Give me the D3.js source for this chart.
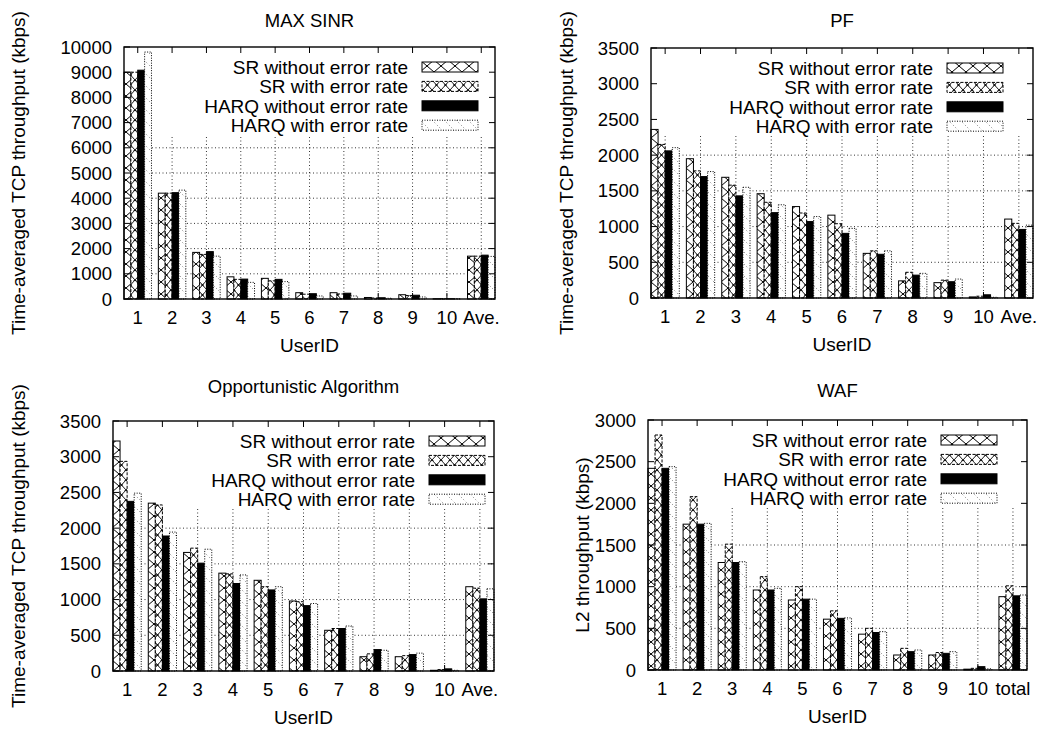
<!DOCTYPE html>
<html>
<head>
<meta charset="utf-8">
<script src="https://cdnjs.cloudflare.com/ajax/libs/d3/7.8.5/d3.min.js"></script>
<style>
  body { margin: 0; background: #fff; }
  svg text { font-family: "Liberation Sans", Arial, Helvetica, sans-serif; fill: #000; }
</style>
</head>
<body>
<div id="content-holder"></div>
<script>
// chart data
var userIds = ["1", "2", "3", "4", "5", "6", "7", "8", "9", "10", "Ave."];
var wafUserIds = ["1", "2", "3", "4", "5", "6", "7", "8", "9", "10", "total"];
var seriesNames = ["SR without error rate", "SR with error rate", "HARQ without error rate", "HARQ with error rate"];

var maxSinrSrNoErr   = [9000, 4200, 1850, 880, 820, 250, 250, 60, 170, 10, 1700];
var maxSinrSrErr     = [9000, 4200, 1770, 780, 720, 190, 200, 40, 140, 10, 1700];
var maxSinrHarqNoErr = [9080, 4220, 1880, 790, 780, 210, 230, 50, 150, 10, 1740];
var maxSinrHarqErr   = [9800, 4320, 1700, 660, 690, 120, 120, 30, 80, 10, 1690];

var pfSrNoErr   = [2360, 1950, 1690, 1460, 1280, 1160, 625, 240, 215, 15, 1105];
var pfSrErr     = [2150, 1780, 1580, 1340, 1190, 1040, 660, 360, 250, 25, 1045];
var pfHarqNoErr = [2060, 1700, 1430, 1195, 1070, 905, 612, 320, 228, 45, 960];
var pfHarqErr   = [2105, 1770, 1550, 1305, 1140, 975, 660, 345, 265, 10, 1020];

var oppSrNoErr   = [3220, 2350, 1660, 1370, 1270, 980, 570, 200, 200, 10, 1180];
var oppSrErr     = [2935, 2325, 1720, 1360, 1180, 970, 595, 240, 215, 20, 1160];
var oppHarqNoErr = [2375, 1890, 1510, 1225, 1135, 915, 595, 300, 230, 30, 1010];
var oppHarqErr   = [2490, 1945, 1705, 1345, 1180, 945, 630, 290, 250, 10, 1150];

var wafSrNoErr   = [2420, 1750, 1290, 960, 840, 610, 430, 180, 180, 10, 880];
var wafSrErr     = [2820, 2080, 1510, 1120, 1000, 710, 500, 260, 210, 20, 1010];
var wafHarqNoErr = [2420, 1750, 1290, 960, 850, 620, 450, 220, 200, 40, 890];
var wafHarqErr   = [2440, 1760, 1300, 980, 850, 625, 460, 240, 220, 15, 900];

var maxSinrTicks = d3.range(0, 10001, 1000);
var tcpTicks = d3.range(0, 3501, 500);
var wafTicks = d3.range(0, 3001, 500);

// panel layout
var panels = [
  { title: "MAX SINR", titleY: 27, ylabel: "Time-averaged TCP throughput (kbps)", ylabelX: 18,
    left: 124, right: 495, top: 47, bottom: 299, ymax: 10000, ticks: maxSinrTicks, cats: userIds,
    series: [maxSinrSrNoErr, maxSinrSrErr, maxSinrHarqNoErr, maxSinrHarqErr], keyRight: 478 },
  { title: "PF", titleY: 27, ylabel: "Time-averaged TCP throughput (kbps)", ylabelX: 566,
    left: 651, right: 1033, top: 48, bottom: 298, ymax: 3500, ticks: tcpTicks, cats: userIds,
    series: [pfSrNoErr, pfSrErr, pfHarqNoErr, pfHarqErr], keyRight: 1003 },
  { title: "Opportunistic Algorithm", titleY: 393, ylabel: "Time-averaged TCP throughput (kbps)", ylabelX: 18,
    left: 113, right: 494, top: 421, bottom: 671, ymax: 3500, ticks: tcpTicks, cats: userIds,
    series: [oppSrNoErr, oppSrErr, oppHarqNoErr, oppHarqErr], keyRight: 485 },
  { title: "WAF", titleY: 397, ylabel: "L2 throughput (kbps)", ylabelX: 582,
    left: 648, right: 1027, top: 420, bottom: 670, ymax: 3000, ticks: wafTicks, cats: wafUserIds,
    series: [wafSrNoErr, wafSrErr, wafHarqNoErr, wafHarqErr], keyRight: 997 }
];

var svg = d3.select("#content-holder")
  .append("svg")
  .attr("width", 1045)
  .attr("height", 731);

// fill patterns like the gnuplot ones
var defs = svg.append("defs");
var pCross = defs.append("pattern").attr("id", "p-cross")
  .attr("patternUnits", "userSpaceOnUse").attr("width", 14).attr("height", 12);
pCross.append("rect").attr("width", 14).attr("height", 12).attr("fill", "#fff");
pCross.append("path").attr("d", "M0,0 L14,12 M14,0 L0,12")
  .attr("stroke", "#000").attr("stroke-width", 1).attr("fill", "none");

var pCrossX = defs.append("pattern").attr("id", "p-crossx")
  .attr("patternUnits", "userSpaceOnUse").attr("width", 9).attr("height", 10);
pCrossX.append("rect").attr("width", 9).attr("height", 10).attr("fill", "#fff");
pCrossX.append("path").attr("d", "M0,0 L9,10 M9,0 L0,10")
  .attr("stroke", "#000").attr("stroke-width", 0.9).attr("fill", "none");
pCrossX.append("path").attr("d", "M3.2,4 L5.8,6 M5.8,4 L3.2,6 M0,-1 L1.3,1 M9,-1 L7.7,1")
  .attr("stroke", "#000").attr("stroke-width", 0.8).attr("fill", "none");

var pDots = defs.append("pattern").attr("id", "p-dots")
  .attr("patternUnits", "userSpaceOnUse").attr("width", 12).attr("height", 12);
pDots.append("rect").attr("width", 12).attr("height", 12).attr("fill", "#fff");
pDots.append("path").attr("d", "M0,0 L12,12")
  .attr("stroke", "#555").attr("stroke-width", 0.8).attr("stroke-dasharray", "1,2.5").attr("fill", "none");

var barStyles = [
  { fill: "url(#p-cross)", dash: null },
  { fill: "url(#p-crossx)", dash: "3,1.5" },
  { fill: "#000", dash: null },
  { fill: "url(#p-dots)", dash: "1,1.5" }
];

var drawPanel = function(p) {
  var g = svg.append("g");
  var x = d3.scaleBand().domain(p.cats).range([p.left, p.right]).paddingInner(0.2).paddingOuter(0);
  var xs = d3.scaleBand().domain(d3.range(4)).range([0, x.bandwidth()]);
  var y = d3.scaleLinear().domain([0, p.ymax]).range([p.bottom, p.top]);
  var keyBottom = p.top + 88;
  var tickLen = 6;
  var centre = function(c) { return x(c) + x.bandwidth() / 2; };

  // dotted grid, hidden behind the key box
  g.selectAll(".hgrid").data(p.ticks.filter(function(t) { return y(t) > keyBottom && t > 0; }))
    .enter().append("line")
    .attr("x1", p.left).attr("x2", p.right)
    .attr("y1", function(t) { return y(t); }).attr("y2", function(t) { return y(t); })
    .attr("stroke", "#000").attr("stroke-width", 0.8).attr("stroke-dasharray", "1,2.5");
  g.selectAll(".vgrid").data(p.cats).enter().append("line")
    .attr("x1", centre).attr("x2", centre)
    .attr("y1", p.bottom).attr("y2", keyBottom)
    .attr("stroke", "#000").attr("stroke-width", 0.8).attr("stroke-dasharray", "1,2.5");

  // bars
  p.series.forEach(function(vals, s) {
    g.selectAll(".bar" + s).data(vals).enter().append("rect")
      .attr("x", function(d, i) { return x(p.cats[i]) + xs(s); })
      .attr("y", function(d) { return y(d); })
      .attr("width", xs.bandwidth())
      .attr("height", function(d) { return p.bottom - y(d); })
      .attr("fill", barStyles[s].fill)
      .attr("stroke", "#000").attr("stroke-width", 1)
      .attr("stroke-dasharray", barStyles[s].dash);
  });

  // frame and ticks (mirrored, inward)
  g.append("rect").attr("x", p.left).attr("y", p.top)
    .attr("width", p.right - p.left).attr("height", p.bottom - p.top)
    .attr("fill", "none").attr("stroke", "#000").attr("stroke-width", 1.4);
  p.ticks.forEach(function(t) {
    g.append("line").attr("x1", p.left).attr("x2", p.left + tickLen)
      .attr("y1", y(t)).attr("y2", y(t)).attr("stroke", "#000");
    g.append("line").attr("x1", p.right).attr("x2", p.right - tickLen)
      .attr("y1", y(t)).attr("y2", y(t)).attr("stroke", "#000");
    g.append("text").text(t)
      .attr("x", p.left - 12).attr("y", y(t) + 6.5)
      .attr("text-anchor", "end").style("font-size", "18.5px");
  });
  p.cats.forEach(function(c) {
    g.append("line").attr("x1", centre(c)).attr("x2", centre(c))
      .attr("y1", p.top).attr("y2", p.top + tickLen).attr("stroke", "#000");
    g.append("line").attr("x1", centre(c)).attr("x2", centre(c))
      .attr("y1", p.bottom).attr("y2", p.bottom - tickLen).attr("stroke", "#000");
    g.append("text").text(c)
      .attr("x", centre(c)).attr("y", p.bottom + 25)
      .attr("text-anchor", "middle").style("font-size", "18.5px");
  });

  // titles
  g.append("text").text(p.title)
    .attr("x", (p.left + p.right) / 2).attr("y", p.titleY)
    .attr("text-anchor", "middle").style("font-size", "18.5px");
  g.append("text").text("UserID")
    .attr("x", (p.left + p.right) / 2).attr("y", p.bottom + 53)
    .attr("text-anchor", "middle").style("font-size", "19px");
  g.append("text").text(p.ylabel)
    .attr("transform", "translate(" + (p.ylabelX + 7) + "," + ((p.top + p.bottom) / 2) + ") rotate(-90)")
    .attr("text-anchor", "middle").style("font-size", "19px");

  // key
  seriesNames.forEach(function(name, s) {
    var rowY = p.top + 20 + s * 19.4;
    g.append("text").text(name)
      .attr("x", p.keyRight - 70).attr("y", rowY + 7)
      .attr("text-anchor", "end").style("font-size", "19px");
    g.append("rect")
      .attr("x", p.keyRight - 56).attr("y", rowY - 5)
      .attr("width", 56).attr("height", 10)
      .attr("fill", barStyles[s].fill)
      .attr("stroke", "#000").attr("stroke-width", 1)
      .attr("stroke-dasharray", barStyles[s].dash);
  });
};

panels.forEach(function(p) { drawPanel(p); });
</script>
</body>
</html>
